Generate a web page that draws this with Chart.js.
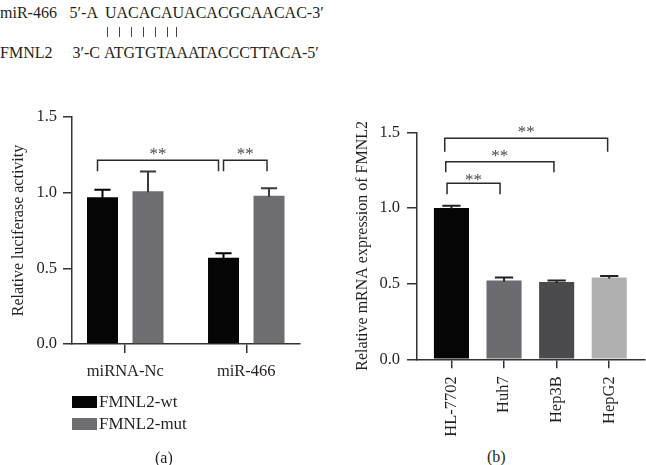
<!DOCTYPE html>
<html><head><meta charset="utf-8">
<script src="https://cdn.jsdelivr.net/npm/chart.js@4.4.0/dist/chart.umd.min.js"></script>
<style>
html,body{margin:0;padding:0;background:#fff;}
body{width:646px;height:465px;position:relative;overflow:hidden;font-family:"Liberation Serif","Times New Roman",serif;color:#231f20;}
.t{position:absolute;white-space:pre;font-size:16px;line-height:20px;}
.lt{position:absolute;white-space:pre;font-size:17px;line-height:20px;}
.r{position:absolute;white-space:pre;font-size:16px;line-height:20px;text-align:right;}
#ca{position:absolute;left:0;top:100px;}
#cb{position:absolute;left:330px;top:100px;}
.sw{position:absolute;width:25px;height:12px;}
.pipe{position:absolute;top:27px;width:0;height:10px;border-left:1px solid #444;}
</style></head>
<body>
<div class="t" style="left:0;top:3px">miR-466</div>
<div class="r" style="left:40px;width:58px;top:3px">5′-A</div>
<div class="t" style="left:105px;top:3px">UACACAUACACGCAACAC-3′</div>
<div id="pipes"></div>
<div class="t" style="left:0;top:43px">FMNL2</div>
<div class="r" style="left:40px;width:60px;top:43px">3′-C</div>
<div class="t" style="left:104px;top:43px">ATGTGTAAATACCCTTACA-5′</div>
<canvas id="ca" width="320" height="300"></canvas>
<canvas id="cb" width="316" height="345"></canvas>
<div id="legendA"></div>
<div class="t" style="left:155px;top:448px">(a)</div>
<div class="t" style="left:487px;top:447px">(b)</div>
<script>
// ---- data ----
const categoriesA = ['miRNA-Nc', 'miR-466'];
const seriesA = ['FMNL2-wt', 'FMNL2-mut'];
const wtValues = [0.97, 0.57];
const wtErrors = [0.05, 0.03];
const mutValues = [1.01, 0.98];
const mutErrors = [0.13, 0.05];
const categoriesB = ['HL-7702', 'Huh7', 'Hep3B', 'HepG2'];
const expressionB = [1.00, 0.52, 0.51, 0.54];
const errorsB = [0.015, 0.02, 0.01, 0.01];
const yTicks = [0.0, 0.5, 1.0, 1.5];
const sigLabel = '**';

// ---- styles ----
const TXT = '#231f20';
const AX = '#333333';
const FONT = '"Liberation Serif", "Times New Roman", serif';
const colorsA = ['#050505', '#6d6d72'];
const errColorsA = ['#000000', '#3a3a3c'];
const colorsB = ['#050505', '#6b6b70', '#4b4b4e', '#b0b0b0'];

// base-pairing marks under the seed region
const pipeX = [107, 119, 131, 143, 155, 167, 176];
pipeX.forEach(x => {
  const d = document.createElement('div');
  d.className = 'pipe'; d.style.left = x + 'px';
  document.getElementById('pipes').appendChild(d);
});

// significance brackets: [dataset, index] endpoints, bracket level & leg ends (y values), pixel nudges
const bracketsA = [
  {from: [0, 0], to: [0, 1], level: 1.214, legFrom: 1.141, legTo: 1.141, star: 1.273, dxFrom: -5, dxTo: -5},
  {from: [0, 1], to: [1, 1], level: 1.214, legFrom: 1.141, legTo: 1.141, star: 1.273, dxFrom: 0, dxTo: -2}
];
const bracketsB = [
  {from: [0, 0], to: [0, 1], level: 1.163, legFrom: 1.090, legTo: 1.090, star: 1.207, dxFrom: -4.4, dxTo: -4},
  {from: [0, 0], to: [0, 2], level: 1.306, legFrom: 1.236, legTo: 1.236, star: 1.365, dxFrom: -5.7, dxTo: -2.7},
  {from: [0, 0], to: [0, 3], level: 1.460, legFrom: 1.372, legTo: 1.372, star: 1.520, dxFrom: -6.7, dxTo: -1.6}
];

const annotate = {
  id: 'annotate',
  afterDatasetsDraw(chart, args, opts) {
    const ctx = chart.ctx, y = chart.scales.y;
    chart.data.datasets.forEach((ds, di) => {
      const meta = chart.getDatasetMeta(di);
      meta.data.forEach((bar, i) => {
        const p = bar.getProps(['x', 'y', 'width'], true);
        const top = y.getPixelForValue(ds.data[i].y + ds.errors[i]);
        const cw = p.width * 0.52;
        const col = Array.isArray(ds.errorColor) ? ds.errorColor[i] : ds.errorColor;
        ctx.save();
        ctx.strokeStyle = col; ctx.lineWidth = 2;
        ctx.beginPath();
        ctx.moveTo(p.x, p.y + 1); ctx.lineTo(p.x, top);
        ctx.moveTo(p.x - cw / 2, top); ctx.lineTo(p.x + cw / 2, top);
        ctx.stroke();
        ctx.restore();
      });
    });
    (opts.brackets || []).forEach(b => {
      const a = chart.getDatasetMeta(b.from[0]).data[b.from[1]].getProps(['x'], true).x + b.dxFrom;
      const c = chart.getDatasetMeta(b.to[0]).data[b.to[1]].getProps(['x'], true).x + b.dxTo;
      const ly = y.getPixelForValue(b.level);
      ctx.save();
      ctx.strokeStyle = '#2a2a2a'; ctx.lineWidth = 1.5;
      ctx.beginPath();
      ctx.moveTo(a, y.getPixelForValue(b.legFrom)); ctx.lineTo(a, ly); ctx.lineTo(c, ly); ctx.lineTo(c, y.getPixelForValue(b.legTo));
      ctx.stroke();
      ctx.fillStyle = '#4a4a4a';
      ctx.font = '17px ' + FONT;
      ctx.textAlign = 'center'; ctx.textBaseline = 'alphabetic';
      ctx.fillText(sigLabel, (a + c) / 2, y.getPixelForValue(b.star) + 8);
      ctx.restore();
    });
  }
};

function yScale(width, tickLen, pad, title, titlePad) {
  return {
    min: 0, max: 1.5,
    afterBuildTicks: s => { s.ticks = yTicks.map(v => ({value: v})); },
    afterFit: s => { s.width = width; },
    ticks: {callback: v => Number(v).toFixed(1), color: TXT, font: {family: FONT, size: 16.5}, padding: pad},
    grid: {drawOnChartArea: false, drawTicks: true, tickLength: tickLen, color: AX, lineWidth: 1.5},
    border: {color: AX, width: 1.5},
    title: {display: true, text: title, color: TXT, font: {family: FONT, size: 16}, padding: {top: titlePad, bottom: 0}}
  };
}

function xScale(cats, min, max, height, rot, pad) {
  return {
    type: 'linear', min: min, max: max, offset: false,
    afterBuildTicks: s => { s.ticks = cats.map((c, i) => ({value: i})); },
    afterFit: s => { s.height = height; },
    ticks: {callback: v => cats[v], color: TXT, font: {family: FONT, size: 16.5}, padding: pad,
            autoSkip: false, maxRotation: rot, minRotation: rot},
    grid: {offset: false, drawOnChartArea: false, drawTicks: true, tickLength: 9, color: AX, lineWidth: 1.5},
    border: {color: AX, width: 1.5}
  };
}

// ---- chart (a) ----
new Chart(document.getElementById('ca'), {
  type: 'bar',
  data: {
    datasets: [
      {label: seriesA[0], data: categoriesA.map((c, i) => ({x: i, y: wtValues[i]})), errors: wtErrors,
       backgroundColor: colorsA[0], errorColor: errColorsA[0], categoryPercentage: 0.752, barPercentage: 0.681},
      {label: seriesA[1], data: categoriesA.map((c, i) => ({x: i, y: mutValues[i]})), errors: mutErrors,
       backgroundColor: colorsA[1], errorColor: errColorsA[1], categoryPercentage: 0.752, barPercentage: 0.681}
    ]
  },
  options: {
    responsive: false, animation: false, devicePixelRatio: 1,
    layout: {padding: {top: 17, right: 20, left: 0, bottom: 0}},
    plugins: {legend: {display: false}, tooltip: {enabled: false}, annotate: {brackets: bracketsA}},
    scales: {
      x: xScale(categoriesA, -0.44, 1.444, 56, 0, 9),
      y: yScale(72, 9, 6, 'Relative luciferase activity', 9)
    }
  },
  plugins: [annotate]
});

// ---- legend (a) ----
const lg = document.getElementById('legendA');
seriesA.forEach((name, i) => {
  const top = 396 + i * 21.5;
  const sw = document.createElement('div');
  sw.className = 'sw'; sw.style.left = '72px'; sw.style.top = top + 'px'; sw.style.background = colorsA[i];
  lg.appendChild(sw);
  const tx = document.createElement('div');
  tx.className = 'lt'; tx.style.left = '99px'; tx.style.top = (top - 4) + 'px'; tx.textContent = name;
  lg.appendChild(tx);
});

// ---- chart (b) ----
new Chart(document.getElementById('cb'), {
  type: 'bar',
  data: {
    datasets: [
      {label: 'FMNL2', data: categoriesB.map((c, i) => ({x: i, y: expressionB[i]})), errors: errorsB,
       backgroundColor: colorsB, errorColor: '#222222', categoryPercentage: 1, barPercentage: 0.667}
    ]
  },
  options: {
    responsive: false, animation: false, devicePixelRatio: 1,
    layout: {padding: {top: 32.3, right: 1, left: 0, bottom: 0}},
    plugins: {legend: {display: false}, tooltip: {enabled: false}, annotate: {brackets: bracketsB}},
    scales: {
      x: xScale(categoriesB, -0.655, 3.68, 85.7, 90, 8),
      y: yScale(87, 10, 7, 'Relative mRNA expression of FMNL2', 23.4)
    }
  },
  plugins: [annotate]
});
</script>
</body></html>
